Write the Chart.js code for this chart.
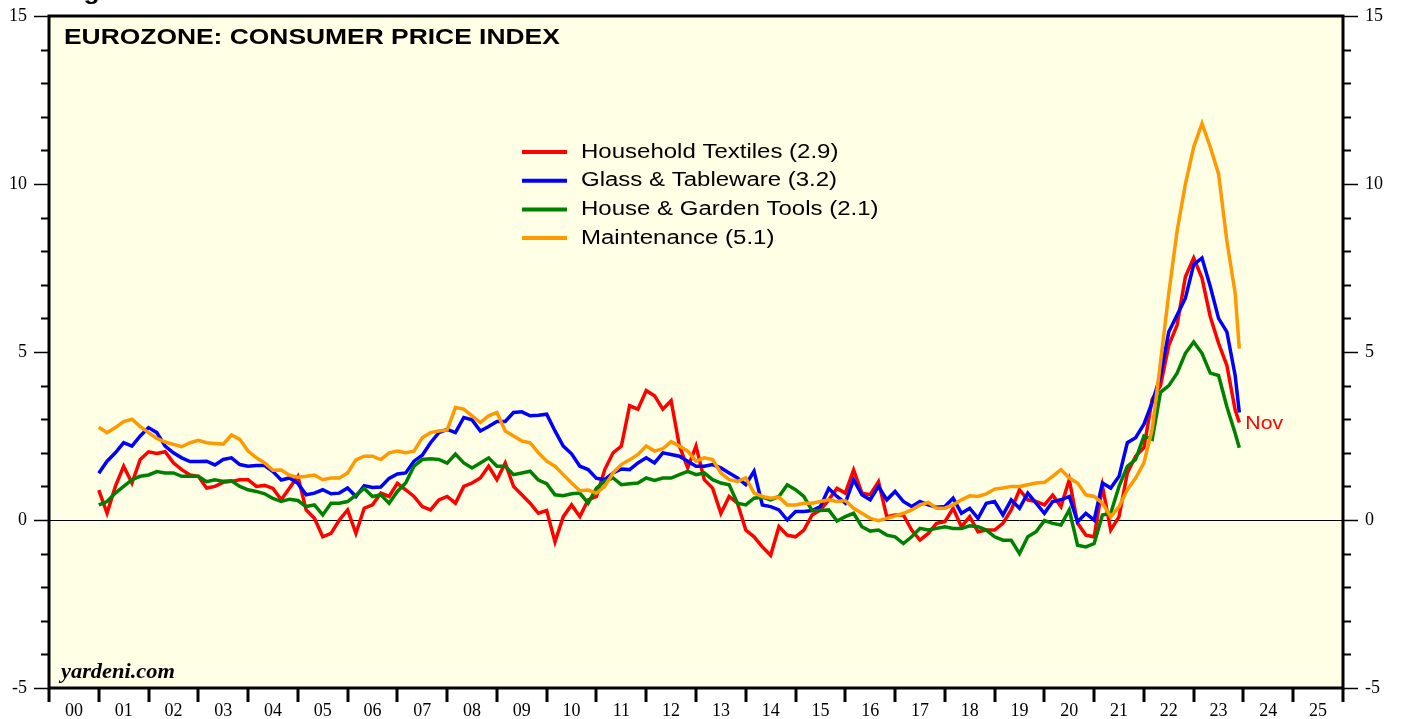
<!DOCTYPE html>
<html lang="en">
<head>
    <meta charset="UTF-8">
    <title>Eurozone: Consumer Price Index</title>
    <script src="https://cdn.jsdelivr.net/npm/chart.js"></script>
    <style>
        body {
            margin: 0;
            background: #fff;
        }
        #wrap {
            width: 1403px;
            height: 719px;
        }
    </style>
</head>
<body>
    <div id="wrap"><canvas id="cpiChart"></canvas></div>

    <script>
        // bimonthly readings, Dec 2000 .. Oct 2023 (month-end positions), plus Nov 2023
        let dates = [];
        for (let k = 0; k < 138; k++) dates.push(2001 + k / 6);
        dates.push(2023 + 11 / 12);

        let yearLabels = ["00","01","02","03","04","05","06","07","08","09","10","11","12",
                          "13","14","15","16","17","18","19","20","21","22","23","24","25"];

        let textiles = [
            0.89, 0.2, 1.0, 1.6, 1.1, 1.8,
            2.03, 1.98, 2.03, 1.7, 1.5, 1.34,
            1.3, 0.95, 1.0, 1.12, 1.15, 1.2,
            1.2, 1.0, 1.03, 0.94, 0.6, 0.95,
            1.3, 0.3, 0.05, -0.5, -0.4, 0.0,
            0.3, -0.4, 0.35, 0.45, 0.8, 0.7,
            1.09, 0.9, 0.7, 0.4, 0.3, 0.6,
            0.7, 0.5, 1.0, 1.1, 1.25, 1.6,
            1.2, 1.7, 1.0, 0.75, 0.5, 0.2,
            0.28, -0.65, 0.1, 0.45, 0.1, 0.6,
            0.7, 1.5, 2.0, 2.2, 3.4, 3.3,
            3.85, 3.7, 3.3, 3.55, 2.2, 1.55,
            2.2, 1.2, 0.95, 0.2, 0.7, 0.5,
            -0.3, -0.5, -0.8, -1.05, -0.2, -0.45,
            -0.5, -0.3, 0.15, 0.3, 0.6, 0.94,
            0.8, 1.49, 0.8, 0.75, 1.14, 0.1,
            0.15, 0.15, -0.3, -0.6, -0.4, -0.1,
            -0.05, 0.35, -0.2, 0.1, -0.35, -0.3,
            -0.3, -0.1, 0.3, 0.9, 0.6, 0.55,
            0.45, 0.74, 0.4, 1.2, -0.1, -0.45,
            -0.5, 1.0, -0.3, 0.1, 1.4, 1.9,
            2.15, 3.6, 4.0, 5.2, 5.8, 7.24,
            7.8, 7.2, 6.05, 5.26, 4.6, 3.27,
            2.9
        ];
        let glass = [
            1.39, 1.75, 2.0, 2.3, 2.2, 2.5,
            2.75, 2.6, 2.2, 2.0, 1.85, 1.74,
            1.74, 1.75, 1.64, 1.8, 1.85, 1.65,
            1.6, 1.62, 1.62, 1.44, 1.19, 1.25,
            1.09, 0.75, 0.8, 0.9, 0.78, 0.8,
            0.95, 0.7, 1.02, 0.97, 0.98, 1.24,
            1.37, 1.4, 1.75, 1.93, 2.3, 2.6,
            2.7, 2.6, 3.05, 2.98, 2.65, 2.78,
            2.93, 2.93, 3.2, 3.22, 3.1, 3.12,
            3.15, 2.65, 2.2, 1.97, 1.6, 1.5,
            1.24, 1.2, 1.4, 1.52, 1.5, 1.7,
            1.85, 1.7, 2.0, 1.95, 1.9, 1.75,
            1.6, 1.6, 1.65, 1.55, 1.4, 1.25,
            1.05, 1.45, 0.45, 0.4, 0.3, 0.0,
            0.25, 0.25, 0.28, 0.4, 0.94, 0.7,
            0.5, 1.2, 0.75, 0.6, 1.0, 0.6,
            0.85, 0.55, 0.4, 0.55, 0.45, 0.38,
            0.4, 0.65, 0.2, 0.35, 0.05, 0.5,
            0.55, 0.15, 0.6, 0.35, 0.8, 0.5,
            0.2, 0.55, 0.6, 0.7, -0.05, 0.2,
            0.0, 1.1, 0.95, 1.3, 2.3, 2.45,
            2.85, 3.5, 4.3, 5.6, 6.1, 6.6,
            7.6, 7.8, 6.95, 6.0, 5.6, 4.3,
            3.2
        ];
        let tools = [
            0.45, 0.55, 0.8, 1.0, 1.2, 1.3,
            1.34, 1.44, 1.4, 1.4, 1.3, 1.3,
            1.3, 1.14, 1.2, 1.15, 1.17, 1.0,
            0.9, 0.85, 0.78, 0.64, 0.55, 0.62,
            0.58, 0.4, 0.45, 0.15, 0.5, 0.5,
            0.55, 0.74, 0.94, 0.7, 0.75, 0.5,
            0.85, 1.1, 1.6, 1.8, 1.82, 1.8,
            1.69, 1.96, 1.7, 1.55, 1.7, 1.85,
            1.6, 1.6, 1.35, 1.4, 1.45, 1.19,
            1.08, 0.75, 0.72, 0.78, 0.8, 0.5,
            0.95, 1.15, 1.25, 1.05, 1.08, 1.1,
            1.25, 1.18, 1.25, 1.25, 1.35, 1.45,
            1.35, 1.4, 1.2, 1.1, 1.05, 0.5,
            0.45, 0.65, 0.68, 0.6, 0.7, 1.05,
            0.9, 0.7, 0.28, 0.28, 0.3, -0.03,
            0.1, 0.2, -0.2, -0.33, -0.3, -0.45,
            -0.5, -0.7, -0.5, -0.25, -0.3, -0.25,
            -0.2, -0.25, -0.25, -0.17, -0.2, -0.3,
            -0.5, -0.6, -0.6, -1.0, -0.5, -0.35,
            -0.02, -0.1, -0.15, 0.3, -0.75, -0.8,
            -0.7, 0.15, 0.2, 1.0, 1.6, 1.8,
            2.5, 2.4, 3.8, 4.0, 4.37, 4.96,
            5.3, 4.96, 4.37, 4.3, 3.37, 2.58,
            2.15
        ];
        let maintenance = [
            2.76, 2.6, 2.75, 2.93, 3.0, 2.78,
            2.6, 2.43, 2.32, 2.25, 2.18, 2.3,
            2.37, 2.3, 2.28, 2.26, 2.53, 2.4,
            2.05, 1.85, 1.7, 1.48, 1.49, 1.33,
            1.27, 1.3, 1.34, 1.2, 1.25, 1.25,
            1.4, 1.79, 1.9, 1.9, 1.8, 2.0,
            2.05, 2.0, 2.05, 2.45, 2.6, 2.65,
            2.68, 3.35, 3.3, 3.1, 2.9, 3.1,
            3.2, 2.65, 2.5, 2.35, 2.3, 2.0,
            1.75, 1.6, 1.35, 1.1, 0.87, 0.89,
            0.8, 1.0, 1.4, 1.65, 1.79, 1.95,
            2.2, 2.05, 2.12, 2.33, 2.2, 2.05,
            1.75, 1.85, 1.8, 1.4, 1.2, 1.15,
            1.25, 0.8, 0.7, 0.65, 0.68, 0.45,
            0.45, 0.5, 0.5, 0.55, 0.6, 0.55,
            0.58, 0.35, 0.2, 0.05, -0.02, 0.05,
            0.12, 0.2, 0.3, 0.45, 0.52, 0.35,
            0.35, 0.45, 0.6, 0.72, 0.7, 0.78,
            0.92, 0.95, 1.0, 1.0, 1.05, 1.1,
            1.12, 1.3, 1.5, 1.25, 1.1, 0.75,
            0.7, 0.5, 0.1, 0.4, 0.9, 1.25,
            1.7, 2.7, 4.7, 6.75, 8.6, 10.0,
            11.1, 11.8, 11.1, 10.3, 8.3, 6.75,
            5.1
        ];

        let seriesNames = ["Household Textiles (2.9)", "Glass & Tableware (3.2)",
                           "House & Garden Tools (2.1)", "Maintenance (5.1)"];
        let seriesColors = ["#FF0000", "#0000FF", "#008000", "#FF9900"];
        let seriesValues = [textiles, glass, tools, maintenance];

        function toPoints(values) {
            return values.map((v, i) => ({ x: dates[i], y: v }));
        }

        // the source renders its sans text a bit wider than Arial, so stretch it
        function wideText(c, text, x, y, stretch) {
            c.save();
            c.translate(x, y);
            c.scale(stretch, 1);
            c.fillText(text, 0, 0);
            c.restore();
        }

        // background, zero line, frame, ticks and texts
        let decorations = {
            id: "decorations",
            beforeDraw(chart) {
                let c = chart.ctx, a = chart.chartArea;
                c.save();
                c.fillStyle = "#ffffff";
                c.fillRect(0, 0, chart.width, chart.height);
                c.fillStyle = "#FFFFE6";
                c.fillRect(a.left, a.top, a.right - a.left, a.bottom - a.top);
                c.restore();
            },
            beforeDatasetsDraw(chart) {
                let c = chart.ctx, a = chart.chartArea;
                let y0 = Math.round(chart.scales.y.getPixelForValue(0)) + 0.5;
                c.save();
                c.strokeStyle = "#000";
                c.lineWidth = 1;
                c.beginPath();
                c.moveTo(a.left, y0);
                c.lineTo(a.right, y0);
                c.stroke();
                c.restore();
            },
            afterDraw(chart) {
                let c = chart.ctx, a = chart.chartArea;
                let xs = chart.scales.x, ys = chart.scales.y;
                c.save();

                // cut-off heading at the very top
                c.fillStyle = "#000";
                c.font = "bold 22px 'Liberation Sans', Arial, sans-serif";
                c.textBaseline = "alphabetic";
                c.textAlign = "left";
                wideText(c, "Figure 7.", 60, -1, 1.2);

                // y ticks and labels, both sides
                c.strokeStyle = "#000";
                c.font = "18px 'Liberation Serif', 'Times New Roman', serif";
                c.textBaseline = "middle";
                for (let v = -5; v <= 15; v++) {
                    let y = Math.round(ys.getPixelForValue(v)) + 0.5;
                    let major = v % 5 === 0;
                    c.lineWidth = major ? 1.5 : 2;
                    let len = major ? 15 : 8;
                    c.beginPath();
                    c.moveTo(a.left - len, y);
                    c.lineTo(a.left, y);
                    c.moveTo(a.right, y);
                    c.lineTo(a.right + len, y);
                    c.stroke();
                    if (major) {
                        c.textAlign = "right";
                        c.fillText(String(v), a.left - 22, y);
                        c.textAlign = "left";
                        c.fillText(String(v), a.right + 22, y);
                    }
                }

                // x ticks at year boundaries, labels mid-year
                c.lineWidth = 3;
                c.textAlign = "center";
                for (let i = 0; i <= yearLabels.length; i++) {
                    let x = Math.round(xs.getPixelForValue(2000 + i));
                    c.beginPath();
                    c.moveTo(x, a.bottom);
                    c.lineTo(x, a.bottom + 14);
                    c.stroke();
                }
                yearLabels.forEach((lab, i) => {
                    c.fillText(lab, xs.getPixelForValue(2000.5 + i), a.bottom + 23);
                });

                // frame
                c.lineWidth = 3;
                c.strokeRect(a.left, a.top, a.right - a.left, a.bottom - a.top);

                // title and source
                c.textAlign = "left";
                c.textBaseline = "alphabetic";
                c.font = "bold 22px 'Liberation Sans', Arial, sans-serif";
                wideText(c, "EUROZONE: CONSUMER PRICE INDEX", a.left + 15, a.top + 28, 1.2);
                c.font = "italic bold 20px 'Liberation Serif', 'Times New Roman', serif";
                wideText(c, "yardeni.com", a.left + 12, a.bottom - 10, 1.12);

                // legend
                c.font = "20px 'Liberation Sans', Arial, sans-serif";
                c.textBaseline = "middle";
                seriesNames.forEach((name, i) => {
                    let y = 152 + i * 28.7;
                    c.strokeStyle = seriesColors[i];
                    c.lineWidth = 4;
                    c.beginPath();
                    c.moveTo(522, y);
                    c.lineTo(567, y);
                    c.stroke();
                    c.fillStyle = "#000";
                    wideText(c, name, 581, y, 1.2);
                });

                // month tag at the end of the red line
                let last = textiles.length - 1;
                c.fillStyle = "#FF0000";
                c.font = "19px 'Liberation Sans', Arial, sans-serif";
                wideText(c, "Nov", xs.getPixelForValue(dates[last]) + 6,
                         ys.getPixelForValue(textiles[last]) + 1, 1.12);
                c.restore();
            }
        };

        let ctx = document.getElementById("cpiChart").getContext("2d");
        let chart = new Chart(ctx, {
            type: "line",
            data: {
                datasets: seriesValues.map((vals, i) => ({
                    label: seriesNames[i],
                    data: toPoints(vals),
                    borderColor: seriesColors[i],
                    borderWidth: 3.5,
                    pointRadius: 0,
                    tension: 0,
                    fill: false,
                    order: 4 - i
                }))
            },
            options: {
                responsive: true,
                maintainAspectRatio: false,
                animation: false,
                layout: { padding: { left: 49, right: 60, top: 16, bottom: 31 } },
                plugins: {
                    legend: { display: false },
                    tooltip: { enabled: false }
                },
                scales: {
                    x: { type: "linear", min: 2000, max: 2026, display: false },
                    y: { type: "linear", min: -5, max: 15, display: false }
                }
            },
            plugins: [decorations]
        });
    </script>
</body>
</html>
